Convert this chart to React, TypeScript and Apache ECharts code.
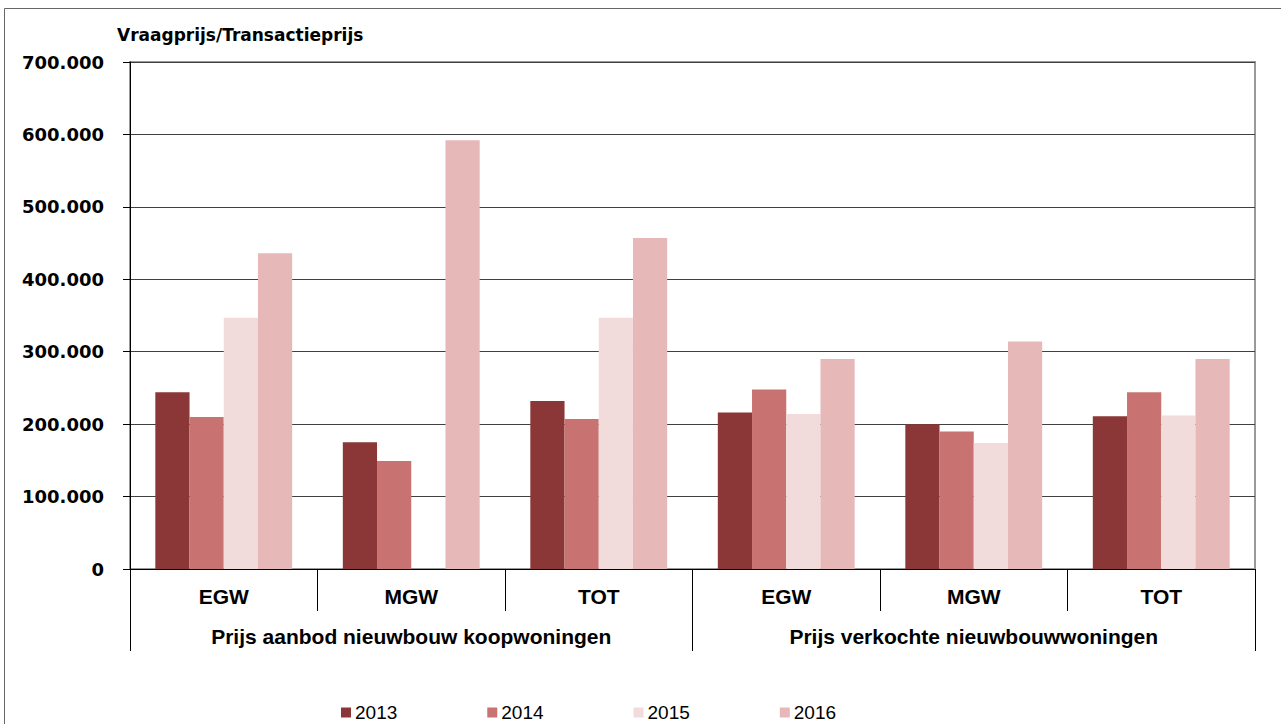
import React, { useEffect, useRef } from "react";
import * as echarts from "echarts";

const subCategories = ["EGW", "MGW", "TOT", "EGW", "MGW", "TOT"];
const groupCategories = ["Prijs aanbod nieuwbouw koopwoningen", "Prijs verkochte nieuwbouwwoningen"];
const years = ["2013", "2014", "2015", "2016"];
const values2013 = [244000, 175000, 232000, 216000, 200000, 211000];
const values2014 = [210000, 149000, 207000, 248000, 190000, 244000];
const values2015 = [347000, null, 347000, 214000, 174000, 212000];
const values2016 = [436000, 592000, 457000, 290000, 314000, 290000];
const colors = ["#8C3737", "#C87371", "#F2DBDB", "#E6B8B8"];
const yTitle = "Vraagprijs/Transactieprijs";

const FONT = "DejaVu Sans, Arial, sans-serif";
const ARIAL = "Liberation Sans, Arial, sans-serif";

export default function App() {
  const ref = useRef<HTMLDivElement>(null);
  useEffect(() => {
    if (!ref.current) return;
    const chart = echarts.init(ref.current, null, { renderer: "svg" });
    const seriesData = [values2013, values2014, values2015, values2016];
    chart.setOption({
      animation: false,
      backgroundColor: "#ffffff",
      title: {
        text: yTitle,
        left: 112,
        top: 21,
        textStyle: { fontFamily: FONT, fontWeight: "bold", fontSize: 17, color: "#000" },
      },
      grid: {
        left: 130,
        right: 26,
        top: 62,
        bottom: 155,
        show: true,
        borderColor: "#999",
        borderWidth: 2,
        containLabel: false,
      },
      legend: {
        data: years,
        left: 341,
        top: 703,
        padding: 0,
        icon: "rect",
        itemWidth: 10,
        itemHeight: 10,
        itemGap: 90,
        textStyle: { fontFamily: ARIAL, fontSize: 19, color: "#000", padding: [0, 0, 0, -1] },
      },
      xAxis: [
        {
          type: "category",
          data: subCategories,
          position: "bottom",
          axisLine: { show: true, lineStyle: { color: "#000", width: 1 } },
          axisTick: { show: true, length: 42, lineStyle: { color: "#000" } },
          axisLabel: {
            margin: 17,
            fontFamily: ARIAL,
            fontWeight: "bold",
            fontSize: 21,
            color: "#000",
          },
        },
        {
          type: "category",
          data: groupCategories,
          position: "bottom",
          axisLine: { show: false },
          axisTick: { show: true, length: 82, lineStyle: { color: "#000" } },
          axisLabel: {
            margin: 57,
            fontFamily: ARIAL,
            fontWeight: "bold",
            fontSize: 21,
            color: "#000",
          },
        },
      ],
      yAxis: {
        type: "value",
        min: 0,
        max: 700000,
        interval: 100000,
        axisLine: { show: true, lineStyle: { color: "#000", width: 1 } },
        axisTick: { show: true, length: 7, lineStyle: { color: "#000" } },
        splitLine: { show: true, lineStyle: { color: "#404040", width: 1 } },
        axisLabel: {
          margin: 26,
          fontFamily: FONT,
          fontWeight: "bold",
          fontSize: 18,
          color: "#000",
          formatter: (v: number) => (v === 0 ? "0" : (v / 1000).toFixed(0) + ".000"),
        },
      },
      graphic: [
        {
          type: "rect",
          shape: { x: 4.5, y: 8.5, width: 1400, height: 900 },
          style: { fill: "none", stroke: "#666", lineWidth: 1 },
          silent: true,
          z: -1,
        },
      ],
      series: years.map((y, i) => ({
        name: y,
        type: "bar",
        xAxisIndex: 0,
        data: seriesData[i],
        barGap: "0%",
        barCategoryGap: "27%",
        itemStyle: { color: colors[i] },
      })),
    });
    return () => chart.dispose();
  }, []);
  return (
    <div
      ref={ref}
      style={{ position: "fixed", left: 0, top: 0, width: 1281, height: 724, background: "#fff" }}
    />
  );
}
